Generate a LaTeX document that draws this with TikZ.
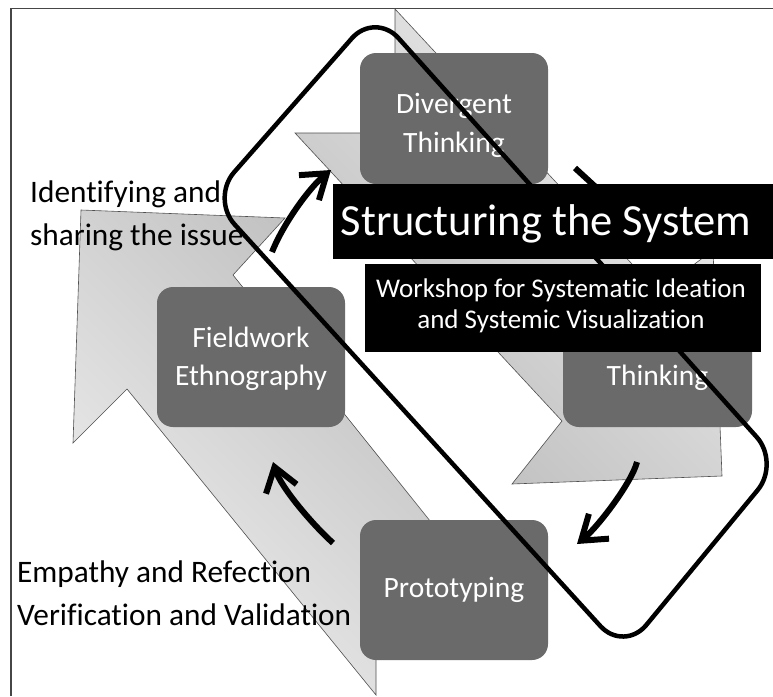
\documentclass[tikz,border=0pt]{standalone}
\usepackage{fontspec}
\setmainfont{Carlito}[Ligatures=NoCommon]
\usetikzlibrary{arrows.meta}
\definecolor{boxgray}{RGB}{106,106,106}
\definecolor{bandlight}{RGB}{238,238,238}
\definecolor{banddark}{RGB}{188,188,188}
\definecolor{bandedge}{RGB}{80,80,80}
\definecolor{framegray}{RGB}{70,70,70}

\begin{document}
\begin{tikzpicture}[x=1pt,y=-1pt,
  stagebox/.style={fill=boxgray, rounded corners=16pt, minimum width=188pt, inner sep=0pt},
  stagetext/.style={text=white, inner sep=0pt, anchor=base, font=\fontsize{29.5}{38}\selectfont},
  band/.style={draw=bandedge, line width=0.6pt},
  cyclearrow/.style={line width=6pt, -{Straight Barb[length=23pt,width=32pt]}},
  sidetext/.style={inner sep=0pt, anchor=base west, font=\fontsize{31.3}{43}\selectfont},
  blackbar/.style={fill=black, inner sep=0pt},
  bartext/.style={text=white, inner sep=0pt, anchor=base},
]
\useasboundingbox (0,0) rectangle (773,696);
\fill[white] (0,0) rectangle (773,696);

% frame
\draw[line width=1.3pt, framegray] (11,696) -- (11,8.5) -- (773,8.5);

% the two broad arrows behind the cycle
\draw[band, top color=banddark, bottom color=bandlight, shading angle=-45]
  (81,210) -- (285,218) -- (233,275) -- (483,587) -- (376,587) -- (376,695)
  -- (127,389) -- (73,443) -- cycle;
\draw[band, top color=bandlight, bottom color=banddark, shading angle=-45]
  (722,476) -- (512,484) -- (562,421) -- (295,133) -- (395,133) -- (395,9)
  -- (658,292) -- (713,250) -- cycle;

% stage boxes
\node[stagebox, minimum height=131pt] (div) at (454,118.5) {};
\node[stagebox, minimum height=140pt] (field) at (251,357) {};
\node[stagebox, minimum width=189pt, minimum height=140pt] (conv) at (657.5,357) {};
\node[stagebox, minimum height=140pt] (proto) at (454,590) {};

\node[stagetext] (divA) at (454,113) {Divergent};
\node[stagetext] (divB) at (454,152) {Thinking};
\node[stagetext] (fieldA) at (251,347) {Fieldwork};
\node[stagetext] (fieldB) at (251,385) {Ethnography};
\node[stagetext] (convB) at (657.5,385) {Thinking};
\node[stagetext] (protoA) at (454,597) {Prototyping};

% cycle arrows
\coordinate (a1s) at (272,252);
\coordinate (a1e) at (331,170);
\coordinate (a2s) at (575,168);
\coordinate (a2e) at (612,202);
\coordinate (a3s) at (637,462);
\coordinate (a3e) at (577,544);
\coordinate (a4s) at (333,543);
\coordinate (a4e) at (273,462);
\draw[cyclearrow] (a1s) .. controls (284,222) and (311,186) .. (a1e);
\draw[line width=6pt] (a2s) -- (a2e);
\draw[cyclearrow] (a3s) .. controls (632,482) and (598,527) .. (a3e);
\draw[cyclearrow] (a4s) .. controls (314,526) and (281,488) .. (a4e);

% outline round the system-structuring stages
\draw[line width=4.5pt, rounded corners=35pt]
  (293,105.25) -- (375,12) -- (780,463) -- (624,652) -- (211,198.5) -- cycle;

% side captions
\node[sidetext] (idA) at (30,202) {Identifying and};
\node[sidetext] (idB) at (30,245) {sharing the issue};
\node[sidetext] (emA) at (17,582) {Empathy and Refection};
\node[sidetext] (emB) at (17,625) {Verification and Validation};

% title bars
\node[blackbar, minimum width=442pt, minimum height=75pt] (title) at (554,221.5) {};
\node[bartext, font=\fontsize{44.5}{50}\selectfont] (titleT) at (546,235) {Structuring the System};
\node[blackbar, minimum width=396pt, minimum height=88pt] (sub) at (563,308) {};
\node[bartext, font=\fontsize{27}{31}\selectfont] (subA) at (561,297) {Workshop for Systematic Ideation};
\node[bartext, font=\fontsize{27}{31}\selectfont] (subB) at (561,328) {and Systemic Visualization};
\end{tikzpicture}
\end{document}
